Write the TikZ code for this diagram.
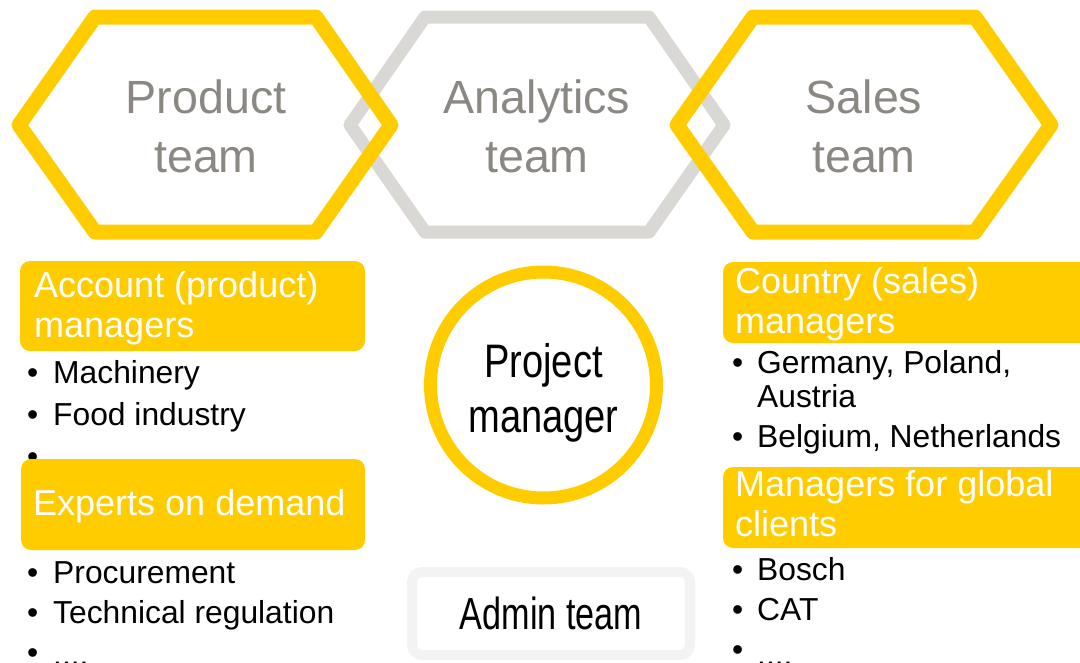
\documentclass[tikz,border=0pt]{standalone}
\usepackage{fontspec}
\setmainfont{Liberation Sans}
\newfontfamily\pmnarrow[FakeStretch=0.81]{Liberation Sans}
\newfontfamily\adnarrow[FakeStretch=0.76]{Liberation Sans}
\definecolor{tyellow}{HTML}{FFCC00}
\definecolor{tgray}{HTML}{D9D8D4}
\definecolor{ttext}{HTML}{8B8883}
\definecolor{tadmin}{HTML}{F4F3F1}
\tikzset{
  hexy/.style={draw=tyellow, line width=15pt, line join=round},
  hexg/.style={draw=tgray, line width=13pt, line join=round},
  hextext/.style={text=ttext, anchor=base, inner sep=0pt, align=center,
    font=\fontsize{46.6}{59}\selectfont},
  hdrbox/.style={fill=tyellow, rounded corners=10pt},
  hdrtext/.style={text=white, anchor=base west, inner sep=0pt, align=left,
    font=\fontsize{36}{40}\selectfont},
  bul/.style={anchor=base west, inner sep=0pt, font=\fontsize{31.8}{34}\selectfont},
  btxt/.style={anchor=base west, inner sep=0pt, align=left, font=\fontsize{31.8}{34}\selectfont},
}
% #1 name, #2 bullet x, #3 text x, #4 baseline of bullet, #5 baseline of last text line, #6 text
\newcommand\bitem[6]{\node[bul] (#1-dot) at (#2,#4) {•};\node[btxt] (#1) at (#3,#5) {#6};}
\begin{document}
\begin{tikzpicture}[x=1pt,y=-1pt]
\useasboundingbox (0,0) rectangle (1080,662);
\clip (0,0) rectangle (1080,662);
% hexagons
\draw[hexg] (350,125) -- (425,17) -- (649,17) -- (724,125) -- (649,232) -- (425,232) -- cycle;
\draw[hexy] (19,125) -- (95,17) -- (316,17) -- (391,125) -- (316,232) -- (95,232) -- cycle;
\draw[hexy] (677,125) -- (753,17) -- (975,17) -- (1051,125) -- (975,232) -- (753,232) -- cycle;
\node[hextext] (product) at (206,172) {Product\\team};
\node[hextext] (analytics) at (537,172) {Analytics\\team};
\node[hextext] (sales) at (864,172) {Sales\\team};
% project manager
\node[circle, draw=tyellow, line width=13pt, minimum size=226pt, inner sep=0pt] (pm) at (543.5,385) {};
\node[anchor=base, inner sep=0pt, align=center, font=\pmnarrow\fontsize{47}{55}\selectfont] (pmtext) at (543.5,432) {Project\\manager};
% admin
\node[draw=tadmin, line width=10pt, rounded corners=10pt, minimum width=278pt, minimum height=83pt, inner sep=0pt,
  font=\adnarrow\fontsize{45}{50}\selectfont] (admin) at (551,613.5) {Admin team};
% left column
\bitem{mach}{27}{53}{383}{383}{Machinery}
\bitem{food}{27}{53}{425}{425}{Food industry}
\bitem{lmore}{27}{53}{467}{472}{....}
\bitem{proc}{27}{53}{583}{583}{Procurement}
\bitem{tech}{27}{53}{623}{623}{Technical regulation}
\bitem{lmore2}{27}{53}{663}{665}{....}
\path[hdrbox] (20,261) rectangle (365,351);
\node[hdrtext] (account) at (34,337) {Account (product)\\managers};
\path[hdrbox] (21,459) rectangle (365,550);
\node[hdrtext] (experts) at (33,515) {Experts on demand};
% right column
\bitem{ger}{732}{757}{373}{407}{Germany, Poland,\\Austria}
\bitem{bel}{732}{757}{447}{447}{Belgium, Netherlands}
\bitem{bosch}{732}{757}{580}{580}{Bosch}
\bitem{cat}{732}{757}{620}{620}{CAT}
\bitem{rmore}{732}{757}{660}{665}{....}
\path[hdrbox] (723,262) rectangle (1110,343);
\node[hdrtext] (country) at (735,333) {Country (sales)\\managers};
\path[hdrbox] (723,467) rectangle (1110,548);
\node[hdrtext] (global) at (735,536) {Managers for global\\clients};
\end{tikzpicture}
\end{document}
